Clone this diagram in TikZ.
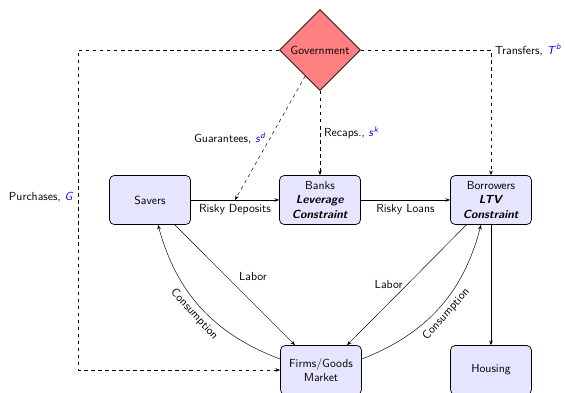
\documentclass[tikz,border=0pt]{standalone}
\usepackage{fontspec}
\usepackage{xcolor}
\usetikzlibrary{arrows.meta, shapes.geometric, positioning}
\newcommand{\pvar}[2]{{\color{blue}\textit{#1}\textsuperscript{\textit{#2}}}}

\begin{document}
\begin{tikzpicture}[>={Stealth[length=4pt,width=3pt]}, font=\sffamily,
  agent/.style={draw, semithick, fill=blue!10, rounded corners=4pt,
    minimum width=2.43cm, minimum height=1.47cm, align=center},
  govt/.style={diamond, draw, semithick, fill=red!50, inner sep=0pt,
    minimum width=2.43cm, minimum height=2.43cm}]
  \useasboundingbox (0,0) rectangle (16.95,11.79);
  % Government
  \node[govt] (gov) at (9.6,10.29) {Government};
  % Agents
  \node[agent] (savers) at (4.5,5.79) {Savers};
  \node[agent] (banks) at (9.6,5.79) {Banks\\\textbf{\textit{Leverage}}\\\textbf{\textit{Constraint}}};
  \node[agent] (borrowers) at (14.73,5.79) {Borrowers\\\textbf{\textit{LTV}}\\\textbf{\textit{Constraint}}};
  \node[agent] (firms) at (9.63,0.69) {Firms/Goods\\Market};
  \node[agent] (housing) at (14.73,0.69) {Housing};
  % Credit
  \draw[->, semithick] (savers) -- node[below] {Risky Deposits} coordinate (dep) (banks);
  \draw[->, semithick] (banks) -- node[below] {Risky Loans} (borrowers);
  % Government flows
  \draw[->, dashed] (gov) -- (dep) node[midway, left] {Guarantees, \pvar{s}{d}};
  \draw[->, dashed] (gov) -- (banks) node[midway, right] {Recaps., \pvar{s}{k}};
  \coordinate (pcorner) at (2.34,10.29);
  \draw[->, dashed] (gov) -- (pcorner) |- (firms) node[pos=0.23, left] {Purchases, \pvar{G}{}};
  \draw[->, dashed] (gov) -| (borrowers) node[pos=0.5, right] {Transfers, \pvar{T}{b}};
  % Labor
  \draw[->] (savers) -- ([xshift=-0.78cm]firms.north) node[midway, above right] {Labor};
  \draw[->] (borrowers) -- ([xshift=0.78cm]firms.north) node[midway, left] {Labor};
  % Consumption
  \draw[->] (firms.165) to[bend left=27] node[midway, sloped, below] {Consumption} ([xshift=0.24cm]savers.south);
  \draw[->] (firms.15) to[bend right=27] node[midway, sloped, below] {Consumption} ([xshift=-0.3cm]borrowers.south);
  % Housing
  \draw[->] (borrowers) -- (housing);
\end{tikzpicture}
\end{document}
